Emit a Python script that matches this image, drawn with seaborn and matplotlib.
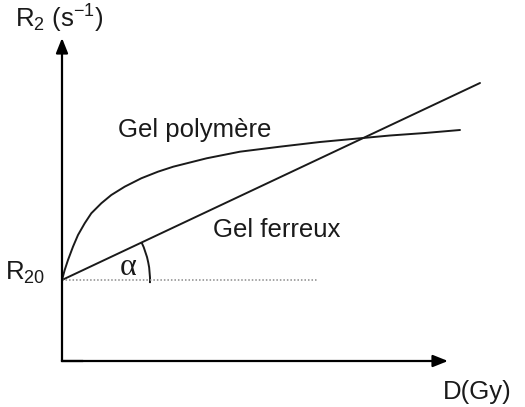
import numpy as np
import pandas as pd
import matplotlib
matplotlib.use("Agg")
import matplotlib.pyplot as plt
from matplotlib.patches import Arc
import seaborn as sns

# Schematic response of two dosimetric gels: R2 relaxation rate vs absorbed dose
r20 = 2.025

# Ferrous gel: linear response starting at R20
ferreux_dose = [0.0, 10.45]
ferreux_r2 = [2.025, 6.95]

# Polymer gel: fast rise then saturation
polymere_dose = [0.0, 0.0675, 0.15, 0.275, 0.4, 0.5675, 0.7325, 0.9825, 1.2325, 1.5675,
                 1.9825, 2.4, 2.7825, 3.6175, 4.45, 5.45, 6.45, 7.525, 8.2, 9.075, 9.95]
polymere_r2 = [2.025, 2.275, 2.525, 2.858, 3.15, 3.443, 3.693, 3.943, 4.15, 4.358,
               4.568, 4.733, 4.858, 5.068, 5.233, 5.358, 5.475, 5.575, 5.6375, 5.7, 5.775]

baseline_dose = [0.0, 6.4]
baseline_r2 = [r20, r20]

axis_x_end = 9.65
axis_y_end = 8.075

sns.set_theme(style="white")
plt.rcParams["font.family"] = ["Liberation Sans", "DejaVu Sans"]
plt.rcParams["mathtext.fontset"] = "custom"
plt.rcParams["mathtext.rm"] = "Liberation Sans"
plt.rcParams["mathtext.it"] = "Liberation Sans"

fig = plt.figure(figsize=(5.25, 4.07), dpi=100)
ax = fig.add_axes([0, 0, 1, 1])
ax.set_xlim(-1.55, 11.575)
ax.set_ylim(-1.15, 9.025)
ax.axis("off")

ink = "#1a1a1a"

df_f = pd.DataFrame({"D": ferreux_dose, "R2": ferreux_r2})
df_p = pd.DataFrame({"D": polymere_dose, "R2": polymere_r2})
sns.lineplot(data=df_f, x="D", y="R2", ax=ax, color=ink, lw=1.4)
sns.lineplot(data=df_p, x="D", y="R2", ax=ax, color=ink, lw=1.4)
ax.plot(baseline_dose, baseline_r2, color="#8a8a8a", lw=1.1, ls=(0, (1, 1.3)))

# Axes with arrow heads
arrow = dict(arrowstyle="-|>,head_length=0.75,head_width=0.3", color="black", lw=1.6,
             shrinkA=0, shrinkB=0)
ax.annotate("", xy=(0, axis_y_end), xytext=(0, 0), arrowprops=arrow)
ax.annotate("", xy=(axis_x_end, 0), xytext=(0, 0), arrowprops=arrow)
ax.plot([0, 0.5], [0, 0], color="black", lw=1.6, solid_capstyle="projecting")

# Angle of the ferrous gel line
angle = np.degrees(np.arctan2(ferreux_r2[1] - ferreux_r2[0], ferreux_dose[1] - ferreux_dose[0]))
ax.add_patch(Arc((0, r20), 4.4, 4.4, theta1=-2, theta2=angle, color=ink, lw=1.4))

fs = 18.5
ax.text(-1.175, 8.325, r"R$_\mathregular{2}$ (s$^\mathregular{-1}$)", fontsize=fs, color=ink, va="baseline")
ax.text(-1.425, r20, r"R$_\mathregular{20}$", fontsize=fs, color=ink, va="baseline")
ax.text(9.525, -0.95, "D(Gy)", fontsize=fs, color=ink, va="baseline")
ax.text(1.4, 5.6, "Gel polymère", fontsize=fs, color=ink, va="baseline")
ax.text(3.775, 3.1, "Gel ferreux", fontsize=fs, color=ink, va="baseline")
ax.text(1.45, 2.15, "α", fontsize=23, color=ink, va="baseline", family=["Liberation Serif", "DejaVu Serif"])

fig.savefig("out.png", dpi=100)
